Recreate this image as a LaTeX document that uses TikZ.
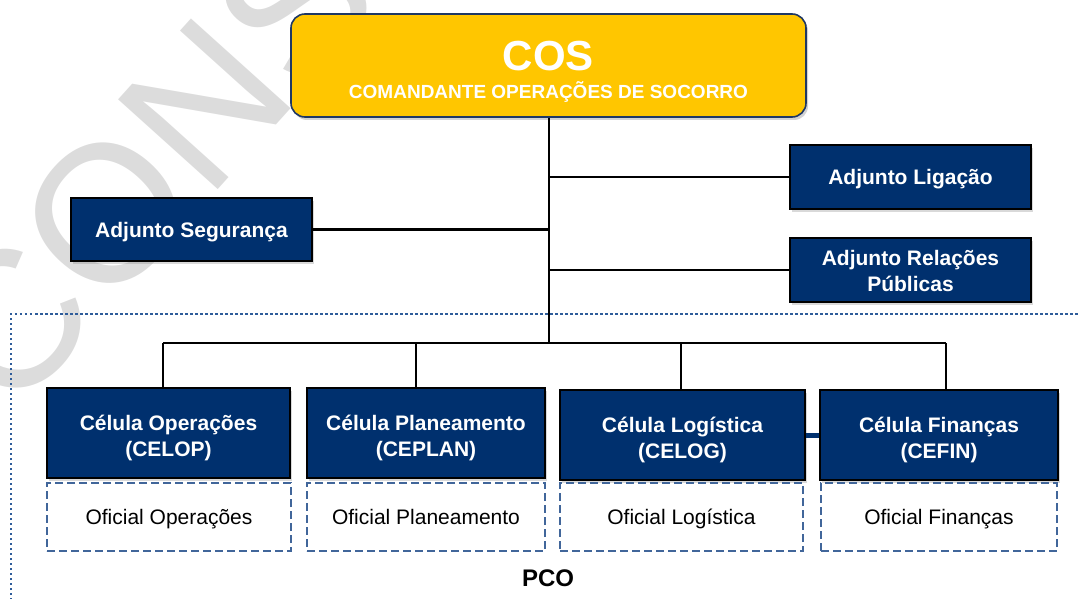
\documentclass[tikz,border=0pt]{standalone}
\usepackage{fontspec}
\setmainfont{Liberation Sans}
\usetikzlibrary{shadows}
\definecolor{navy}{HTML}{00306E}
\definecolor{gold}{HTML}{FFC600}
\definecolor{goldline}{HTML}{1F3864}
\definecolor{dashblue}{HTML}{41669A}
\definecolor{dotblue}{HTML}{2E5C9A}
\definecolor{wm}{HTML}{DCDCDC}
\tikzset{
  cosbox/.style={draw=goldline, line width=1.6pt, fill=gold, rounded corners=14pt,
    drop shadow={shadow xshift=2pt, shadow yshift=-3pt, opacity=0.35}, text=white, align=center, inner sep=0pt},
  navybox/.style={draw=black, line width=1.5pt, fill=navy, text=white, align=center, inner sep=0pt,
    font=\fontsize{21}{26}\selectfont\bfseries,
    drop shadow={shadow xshift=2pt, shadow yshift=-3pt, opacity=0.3}},
  oneline/.style={text height=19pt, text depth=4pt},
  twoline/.style={text height=50.5pt, text depth=4.4pt},
  twolineb/.style={text height=43pt, text depth=0.5pt},
  offbox/.style={draw=dashblue, line width=2.4pt, dash pattern=on 8pt off 4pt, fill=white, align=center, inner sep=0pt,
    font=\fontsize{21}{26}\selectfont, text=black, text height=17pt, text depth=3pt},
  conn/.style={draw=black, line width=2.5pt},
  pcoline/.style={draw=dotblue, line width=2.5pt, dash pattern=on 2.5pt off 2.5pt}
}
\begin{document}
\begin{tikzpicture}[x=1pt,y=-1pt]
\useasboundingbox (0,0) rectangle (1080,599);
% watermark
\node[text=wm, rotate=48, font=\fontsize{195}{195}\selectfont, inner sep=0pt] (wmark) at (150,165) {CONS};
% PCO region
\coordinate (pcoA) at (11,620);
\coordinate (pcoB) at (11,314);
\coordinate (pcoC) at (1100,314);
\draw[pcoline] (pcoA) -- (pcoB) -- (pcoC);
% top
\node[cosbox, minimum width=515pt, minimum height=103pt] (cos) at (548.5,65.5) {};
\node[text=white, font=\fontsize{42}{42}\selectfont\bfseries, inner sep=0pt] (costitle) at (548.5,56) {COS};
\node[text=white, font=\fontsize{19}{19}\selectfont\bfseries, inner sep=0pt] (cossub) at (548.5,92) {COMANDANTE OPERAÇÕES DE SOCORRO};
% adjuntos
\node[navybox, oneline, minimum width=241pt, minimum height=64pt] (lig) at (910.5,177) {Adjunto Ligação};
\node[navybox, oneline, minimum width=241pt, minimum height=63pt] (seg) at (191.5,229.5) {Adjunto Segurança};
\node[navybox, twolineb, minimum width=241pt, minimum height=64pt] (rp) at (910.5,270) {Adjunto Relações\\Públicas};
% cells
\node[navybox, twoline, minimum width=243pt, minimum height=90pt] (cop) at (168.5,433) {Célula Operações\\(CELOP)};
\node[navybox, twoline, minimum width=238pt, minimum height=90pt] (cpl) at (426,433) {Célula Planeamento\\(CEPLAN)};
\node[navybox, twoline, minimum width=245pt, minimum height=90pt] (clg) at (682.5,435) {Célula Logística\\(CELOG)};
\node[navybox, twoline, minimum width=238pt, minimum height=90pt] (cfi) at (939,435) {Célula Finanças\\(CEFIN)};
% oficiais
\node[offbox, minimum width=244pt, minimum height=68pt] (oop) at (169,517) {Oficial Operações};
\node[offbox, minimum width=238pt, minimum height=68pt] (opl) at (426,517) {Oficial Planeamento};
\node[offbox, minimum width=243pt, minimum height=68pt] (olg) at (681.5,517) {Oficial Logística};
\node[offbox, minimum width=236pt, minimum height=68pt] (ofi) at (939,517) {Oficial Finanças};
\node[font=\fontsize{24}{24}\selectfont\bfseries, inner sep=0pt] (pco) at (548,578) {PCO};
% connectors
\coordinate (trunk) at (549,343);
\coordinate (b1) at (163,343);
\coordinate (b2) at (416,343);
\coordinate (b3) at (681,343);
\coordinate (b4) at (946,343);
\draw[conn] (cos.south -| trunk) -- (trunk);
\draw[conn] (trunk |- lig.west) -- (lig.west);
\draw[conn] (trunk |- seg.east) -- (seg.east);
\draw[conn] (trunk |- rp.west) -- (rp.west);
\draw[conn] (b1) -- (b4);
\draw[conn] (b1) -- (b1 |- cop.north);
\draw[conn] (b2) -- (b2 |- cpl.north);
\draw[conn] (b3) -- (b3 |- clg.north);
\draw[conn] (b4) -- (b4 |- cfi.north);
\draw[draw=navy, line width=5pt] (clg.east) -- (cfi.west);
\end{tikzpicture}
\end{document}
